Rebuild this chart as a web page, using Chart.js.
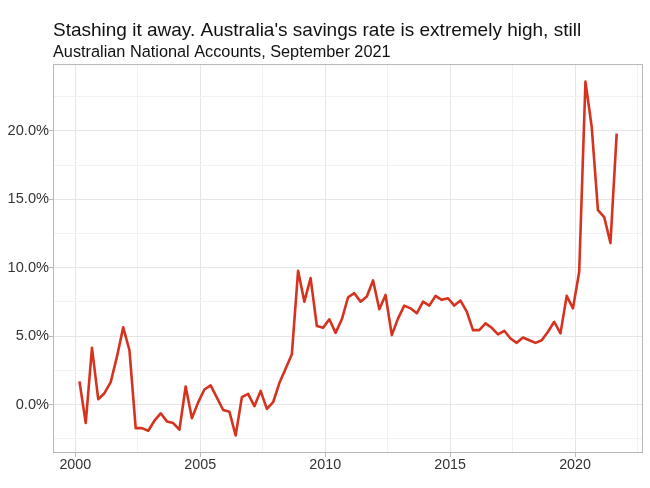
<!DOCTYPE html>
<html>
<head>
<meta charset="utf-8">
<script src="https://cdn.jsdelivr.net/npm/chart.js@4"></script>
<style>
  html, body { margin: 0; padding: 0; background: #fff; }
  #wrap { width: 650px; height: 488px; }
</style>
</head>
<body>
<div id="wrap"><canvas id="savings"></canvas></div>
<script>
// household savings ratio, quarterly, Mar 2000 - Sep 2021 (%)
const firstYear = 2000;
const quarterMonths = [3, 6, 9, 12];
const savingsRate = [
    1.69, -1.35, 4.14, 0.39, 0.83, 1.64, 3.5, 5.64, 3.97, -1.72,
    -1.72, -1.91, -1.18, -0.64, -1.23, -1.35, -1.84, 1.32, -1.0, 0.16,
    1.1, 1.4, 0.5, -0.4, -0.52, -2.26, 0.54, 0.78, -0.12, 1.0,
    -0.32, 0.17, 1.57, 2.62, 3.68, 9.78, 7.52, 9.24, 5.74, 5.61,
    6.23, 5.24, 6.23, 7.84, 8.14, 7.52, 7.89, 9.07, 6.96, 8.01,
    5.07, 6.3, 7.23, 7.03, 6.67, 7.52, 7.23, 7.94, 7.65, 7.77,
    7.23, 7.6, 6.79, 5.44, 5.44, 5.93, 5.61, 5.12, 5.39, 4.83,
    4.51, 4.9, 4.7, 4.51, 4.7, 5.32, 6.05, 5.2, 7.94, 7.03,
    9.7, 23.6, 20.3, 14.2, 13.7, 11.8, 19.8
];
const xTicks = [2000, 2002.5, 2005, 2007.5, 2010, 2012.5, 2015, 2017.5, 2020, 2022.5];
const yTicks = [-2.5, 0, 2.5, 5, 7.5, 10, 12.5, 15, 17.5, 20, 22.5];

const title = "Stashing it away. Australia's savings rate is extremely high, still";
const subtitle = 'Australian National Accounts, September 2021';

// quarter end month -> decimal year (Mar 2000 = 2000 + 2/12)
const points = savingsRate.map((v, i) => {
    const year = firstYear + Math.floor(i / 4);
    const month = quarterMonths[i % 4];
    return {x: year + (month - 1) / 12, y: v};
});

Chart.defaults.font.family = "'Liberation Sans', Arial, sans-serif";

const isMajor = v => Math.abs(v % 5) < 1e-9;

const panelBorder = {
    id: 'panelBorder',
    afterDatasetsDraw(chart) {
        const {ctx, chartArea: a} = chart;
        ctx.save();
        ctx.strokeStyle = '#b8b8b8';
        ctx.lineWidth = 1;
        ctx.strokeRect(a.left + 0.5, a.top + 0.5, a.width - 1, a.height - 1);
        ctx.restore();
    }
};

new Chart(document.getElementById('savings'), {
    type: 'line',
    data: {
        datasets: [{
            data: points,
            borderColor: '#d5331f',
            borderWidth: 2.6,
            borderJoinStyle: 'round',
            pointRadius: 0,
            tension: 0,
            fill: false
        }]
    },
    options: {
        responsive: true,
        maintainAspectRatio: false,
        animation: false,
        layout: {padding: {left: 0, right: 7, top: 0, bottom: 0}},
        plugins: {
            legend: {display: false},
            tooltip: {enabled: false},
            title: {
                display: true,
                text: title,
                align: 'start',
                fullSize: false,
                color: '#111',
                font: {size: 19, weight: 'normal'},
                padding: {top: 19.5, bottom: 0}
            },
            subtitle: {
                display: true,
                text: subtitle,
                align: 'start',
                fullSize: false,
                color: '#111',
                font: {size: 16.3},
                padding: {top: 0, bottom: 2.2}
            }
        },
        scales: {
            x: {
                type: 'linear',
                min: 1999.107,
                max: 2022.72,
                afterBuildTicks: s => { s.ticks = xTicks.map(v => ({value: v})); },
                afterFit: s => { s.height = 35; },
                border: {display: false},
                grid: {
                    color: ctx => isMajor(ctx.tick.value) ? '#e6e6e6' : '#f2f2f2',
                    lineWidth: 1,
                    tickLength: 4,
                    tickColor: ctx => isMajor(ctx.tick.value) ? '#b8b8b8' : 'rgba(0,0,0,0)'
                },
                ticks: {
                    autoSkip: false,
                    maxRotation: 0,
                    padding: -1,
                    color: '#333',
                    font: {size: 14.3},
                    callback: v => isMajor(v) ? String(v) : ''
                }
            },
            y: {
                min: -3.54,
                max: 24.88,
                afterBuildTicks: s => { s.ticks = yTicks.map(v => ({value: v})); },
                afterFit: s => { s.width = 53; },
                border: {display: false},
                grid: {
                    color: ctx => isMajor(ctx.tick.value) ? '#e6e6e6' : '#f2f2f2',
                    lineWidth: 1,
                    tickLength: 4,
                    tickColor: ctx => isMajor(ctx.tick.value) ? '#b8b8b8' : 'rgba(0,0,0,0)'
                },
                ticks: {
                    autoSkip: false,
                    padding: 0,
                    color: '#333',
                    font: {size: 14.6},
                    callback: v => isMajor(v) ? v.toFixed(1) + '%' : ''
                }
            }
        }
    },
    plugins: [panelBorder]
});
</script>
</body>
</html>
